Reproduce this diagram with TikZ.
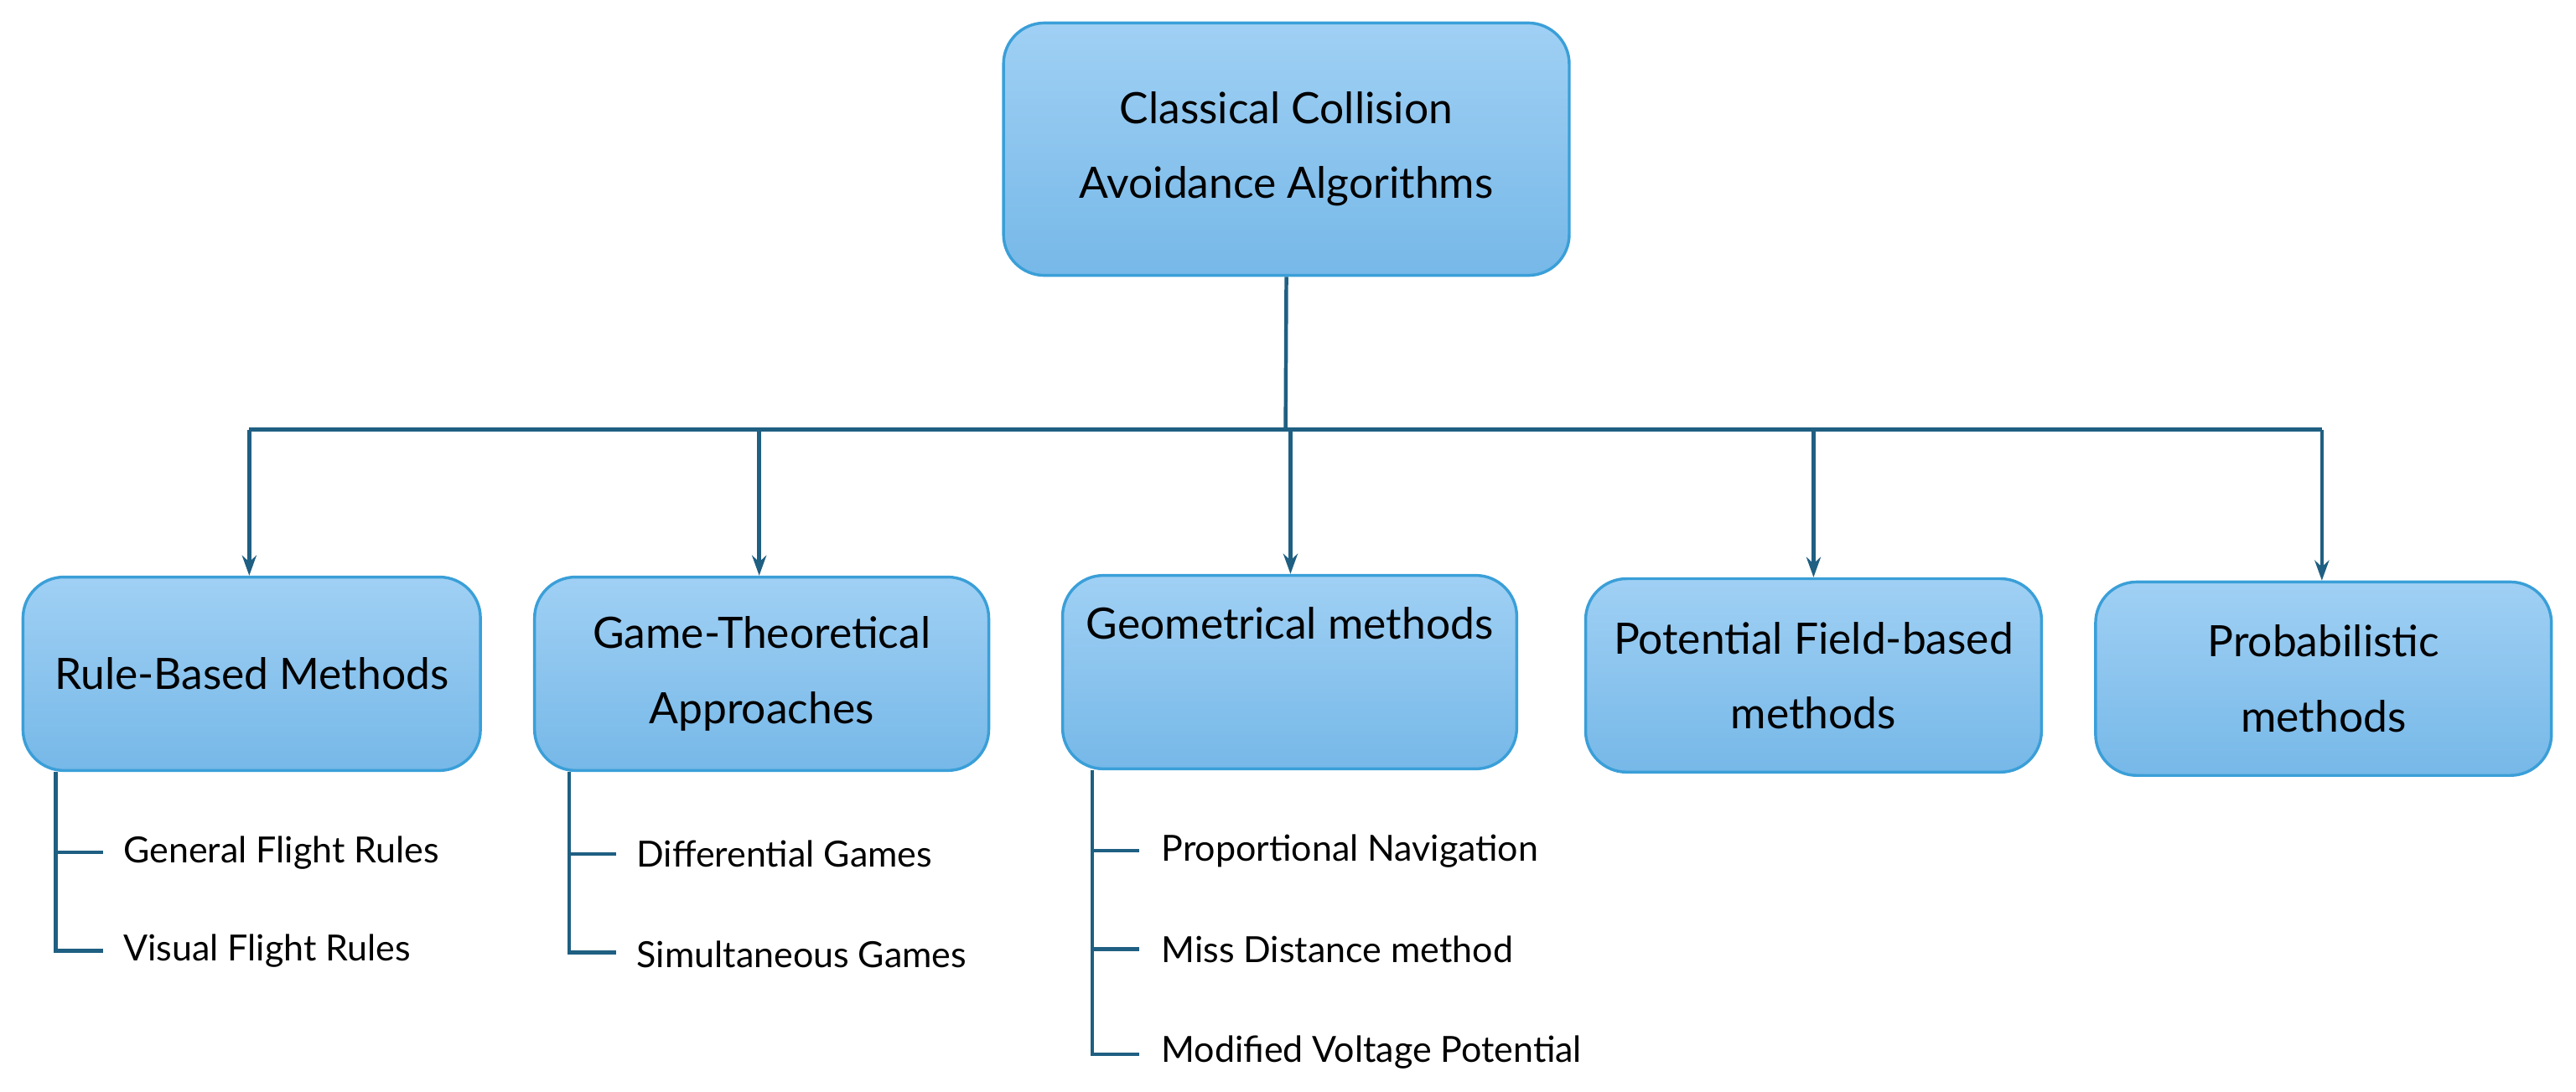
\documentclass[tikz,border=0pt]{standalone}
\usepackage{fontspec}
\setmainfont{Lato}
\usetikzlibrary{arrows.meta}
\definecolor{topc}{HTML}{A0D0F4}
\definecolor{botc}{HTML}{76B8E8}
\definecolor{bord}{HTML}{3A9FD8}
\definecolor{lin}{HTML}{1F5F82}
\begin{document}
\begin{tikzpicture}[x=0.02cm,y=-0.02cm,
  box/.style={draw=bord,line width=1pt,rounded corners=0.5cm,top color=topc,bottom color=botc,align=center,inner sep=0pt,font=\fontsize{15}{26}\selectfont},
  con/.style={draw=lin,line width=1.3pt},
  arr/.style={con,-{Stealth[length=7pt,width=5pt]}},
  sub/.style={anchor=west,inner sep=0pt,font=\fontsize{12.5}{15}\selectfont}]
\useasboundingbox (0,0) rectangle (1571,666);
\node[box,minimum width=345*0.02cm,minimum height=154*0.02cm] (root) at (784.5,91) {Classical Collision\\Avoidance Algorithms};
\node[box,minimum width=279*0.02cm,minimum height=118*0.02cm] (b1) at (153.5,411) {Rule-Based Methods};
\node[box,minimum width=277*0.02cm,minimum height=118*0.02cm] (b2) at (464.5,411) {Game-Theoretical\\Approaches};
\node[box,minimum width=277*0.02cm,minimum height=118*0.02cm] (b3) at (786.5,410) {Geometrical methods\\[8pt]\mbox{}};
\node[box,minimum width=278*0.02cm,minimum height=118*0.02cm] (b4) at (1106,412) {Potential Field-based\\methods};
\node[box,minimum width=278*0.02cm,minimum height=118*0.02cm] (b5) at (1417,414) {Probabilistic\\methods};
\coordinate (h) at (784,262);
\draw[con] (root.south) -- (h);
\draw[con] (152,262) -- (1416,262);
\draw[arr] (152,262) -- (b1.north-|152,0);
\draw[arr] (463,262) -- (b2.north-|463,0);
\draw[arr] (787,262) -- (b3.north-|787,0);
\draw[arr] (1106,262) -- (b4.north-|1106,0);
\draw[arr] (1416,262) -- (b5.north-|1416,0);
% sub lists
\node[sub] (s11) at (75,520) {General Flight Rules};
\node[sub] (s12) at (75,580) {Visual Flight Rules};
\draw[con] (b1.south-|34,0) -- (34,580) -- (63,580);
\draw[con] (34,520) -- (63,520);
\node[sub] (s21) at (388,521) {Differential Games};
\node[sub] (s22) at (388,582) {Simultaneous Games};
\draw[con] (b2.south-|347,0) -- (347,581) -- (376,581);
\draw[con] (347,521) -- (376,521);
\node[sub] (s31) at (708,519) {Proportional Navigation};
\node[sub] (s32) at (708,579) {Miss Distance method};
\node[sub] (s33) at (708,642) {Modified Voltage Potential};
\draw[con] (b3.south-|666,0) -- (666,643) -- (695,643);
\draw[con] (666,519) -- (695,519);
\draw[con] (666,579) -- (695,579);
\end{tikzpicture}
\end{document}
